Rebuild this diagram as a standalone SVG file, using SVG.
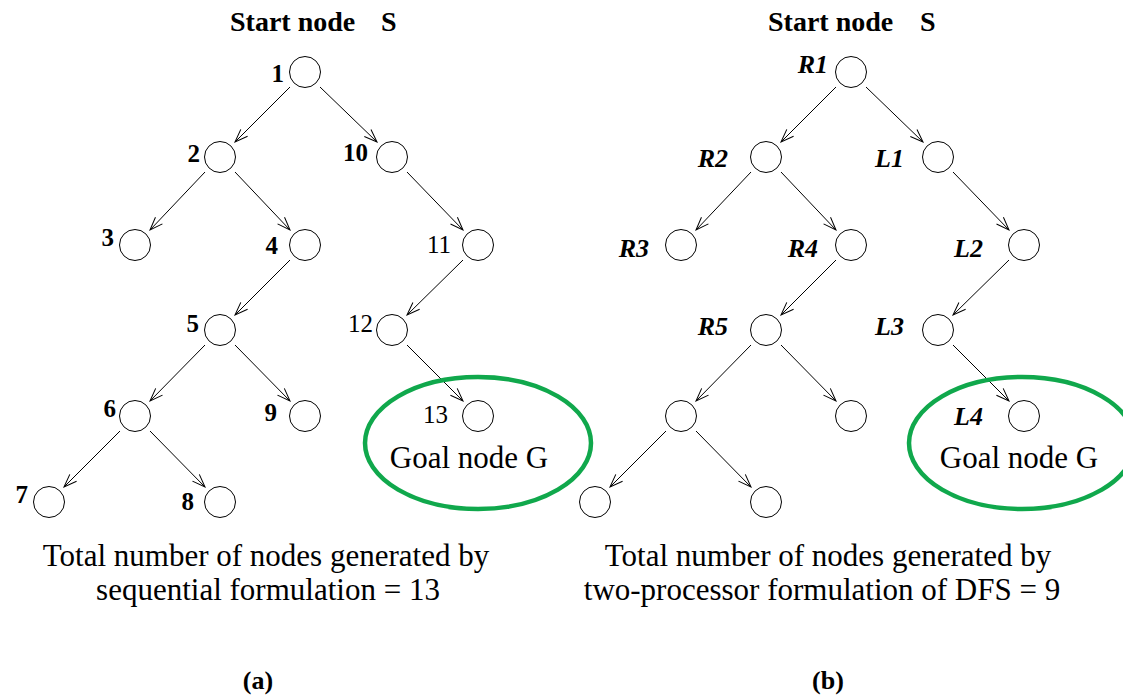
<svg xmlns="http://www.w3.org/2000/svg" width="1123" height="695" viewBox="0 0 1123 695">
<style>
text{font-family:'Liberation Serif','Times New Roman',Times,'DejaVu Serif',serif;fill:#000}
.n circle{fill:#fff;stroke:#000;stroke-width:1}
.lb{font-size:25px;font-weight:bold}
.lr{font-size:25px}
.li{font-size:26px;font-weight:bold;font-style:italic}
.hd{font-size:28px;font-weight:bold}
.ft{font-size:31px}
.cap{font-size:26px;font-weight:bold}
.goal{fill:none;stroke:#10A84C;stroke-width:4.5}
.e line{stroke:#000;stroke-width:1;marker-end:url(#ah)}
</style>
<defs>
<marker id="ah" markerUnits="userSpaceOnUse" viewBox="-15 -7 17 14" refX="0" refY="0" markerWidth="17" markerHeight="14" orient="auto">
<path d="M-13,-4.8 L0,0 L-13,4.8" fill="none" stroke="#000" stroke-width="1"/>
</marker>
</defs>
<rect width="1123" height="695" fill="#fff"/>
<text class="hd" x="230" y="31">Start node</text>
<text class="hd" x="381" y="31">S</text>
<text class="hd" x="768" y="31">Start node</text>
<text class="hd" x="920" y="31">S</text>
<g id="connectors" class="e">
<line x1="290" y1="87" x2="235" y2="142"/>
<line x1="320" y1="87" x2="377" y2="142"/>
<line x1="205" y1="172" x2="150" y2="230"/>
<line x1="235" y1="172" x2="290" y2="230"/>
<line x1="407" y1="172" x2="463" y2="230"/>
<line x1="290" y1="260" x2="235" y2="315"/>
<line x1="463" y1="260" x2="407" y2="315"/>
<line x1="205" y1="345" x2="150" y2="401"/>
<line x1="235" y1="345" x2="290" y2="401"/>
<line x1="407" y1="345" x2="463" y2="401"/>
<line x1="120" y1="431" x2="64" y2="487"/>
<line x1="150" y1="431" x2="205" y2="487"/>
<line x1="836" y1="87" x2="781" y2="142"/>
<line x1="866" y1="87" x2="923" y2="142"/>
<line x1="751" y1="172" x2="696" y2="230"/>
<line x1="781" y1="172" x2="836" y2="230"/>
<line x1="953" y1="172" x2="1009" y2="230"/>
<line x1="836" y1="260" x2="781" y2="315"/>
<line x1="1009" y1="260" x2="953" y2="315"/>
<line x1="751" y1="345" x2="696" y2="401"/>
<line x1="781" y1="345" x2="836" y2="401"/>
<line x1="953" y1="345" x2="1009" y2="401"/>
<line x1="666" y1="431" x2="610" y2="487"/>
<line x1="696" y1="431" x2="751" y2="487"/>
</g>
<ellipse class="goal" cx="478" cy="443" rx="113" ry="66"/>
<text class="ft" x="469" y="468" text-anchor="middle">Goal node G</text>
<ellipse class="goal" cx="1022" cy="443" rx="113" ry="66"/>
<text class="ft" x="1019" y="468" text-anchor="middle">Goal node G</text>
<g class="n">
<g id="a1"><circle cx="305" cy="72" r="15.5"/><text class="lb" x="284" y="82" text-anchor="end">1</text></g>
<g id="a2"><circle cx="220" cy="157" r="15.5"/><text class="lb" x="200" y="162" text-anchor="end">2</text></g>
<g id="a10"><circle cx="392" cy="157" r="15.5"/><text class="lb" x="368" y="161" text-anchor="end">10</text></g>
<g id="a3"><circle cx="135" cy="245" r="15.5"/><text class="lb" x="114" y="246" text-anchor="end">3</text></g>
<g id="a4"><circle cx="305" cy="245" r="15.5"/><text class="lb" x="278" y="254" text-anchor="end">4</text></g>
<g id="a11"><circle cx="478" cy="245" r="15.5"/><text class="lr" x="451" y="253" text-anchor="end">11</text></g>
<g id="a5"><circle cx="220" cy="330" r="15.5"/><text class="lb" x="199" y="332" text-anchor="end">5</text></g>
<g id="a12"><circle cx="392" cy="330" r="15.5"/><text class="lr" x="373" y="332" text-anchor="end">12</text></g>
<g id="a6"><circle cx="135" cy="416" r="15.5"/><text class="lb" x="116" y="417" text-anchor="end">6</text></g>
<g id="a9"><circle cx="305" cy="416" r="15.5"/><text class="lb" x="277" y="421" text-anchor="end">9</text></g>
<g id="a13"><circle cx="478" cy="416" r="15.5"/><text class="lr" x="448" y="423" text-anchor="end">13</text></g>
<g id="a7"><circle cx="49" cy="502" r="15.5"/><text class="lb" x="28" y="503" text-anchor="end">7</text></g>
<g id="a8"><circle cx="220" cy="502" r="15.5"/><text class="lb" x="194" y="510" text-anchor="end">8</text></g>
<g id="bR1"><circle cx="851" cy="72" r="15.5"/><text class="li" x="828" y="73" text-anchor="end">R1</text></g>
<g id="bR2"><circle cx="766" cy="157" r="15.5"/><text class="li" x="728" y="167" text-anchor="end">R2</text></g>
<g id="bL1"><circle cx="938" cy="157" r="15.5"/><text class="li" x="904" y="167" text-anchor="end">L1</text></g>
<g id="bR3"><circle cx="681" cy="245" r="15.5"/><text class="li" x="649" y="257" text-anchor="end">R3</text></g>
<g id="bR4"><circle cx="851" cy="245" r="15.5"/><text class="li" x="818" y="257" text-anchor="end">R4</text></g>
<g id="bL2"><circle cx="1024" cy="245" r="15.5"/><text class="li" x="983" y="257" text-anchor="end">L2</text></g>
<g id="bR5"><circle cx="766" cy="330" r="15.5"/><text class="li" x="728" y="335" text-anchor="end">R5</text></g>
<g id="bL3"><circle cx="938" cy="330" r="15.5"/><text class="li" x="904" y="335" text-anchor="end">L3</text></g>
<g id="bX1"><circle cx="681" cy="416" r="15.5"/></g>
<g id="bX2"><circle cx="851" cy="416" r="15.5"/></g>
<g id="bL4"><circle cx="1024" cy="416" r="15.5"/><text class="li" x="983" y="425" text-anchor="end">L4</text></g>
<g id="bY1"><circle cx="595" cy="502" r="15.5"/></g>
<g id="bY2"><circle cx="766" cy="502" r="15.5"/></g>
</g>
<text class="ft" x="266" y="566" text-anchor="middle">Total number of nodes generated by</text>
<text class="ft" x="268" y="600" text-anchor="middle">sequential formulation = 13</text>
<text class="ft" x="828" y="566" text-anchor="middle">Total number of nodes generated by</text>
<text class="ft" x="822" y="600" text-anchor="middle">two-processor formulation of DFS = 9</text>
<text class="cap" x="258" y="689" text-anchor="middle">(a)</text>
<text class="cap" x="828" y="689" text-anchor="middle">(b)</text>
</svg>
